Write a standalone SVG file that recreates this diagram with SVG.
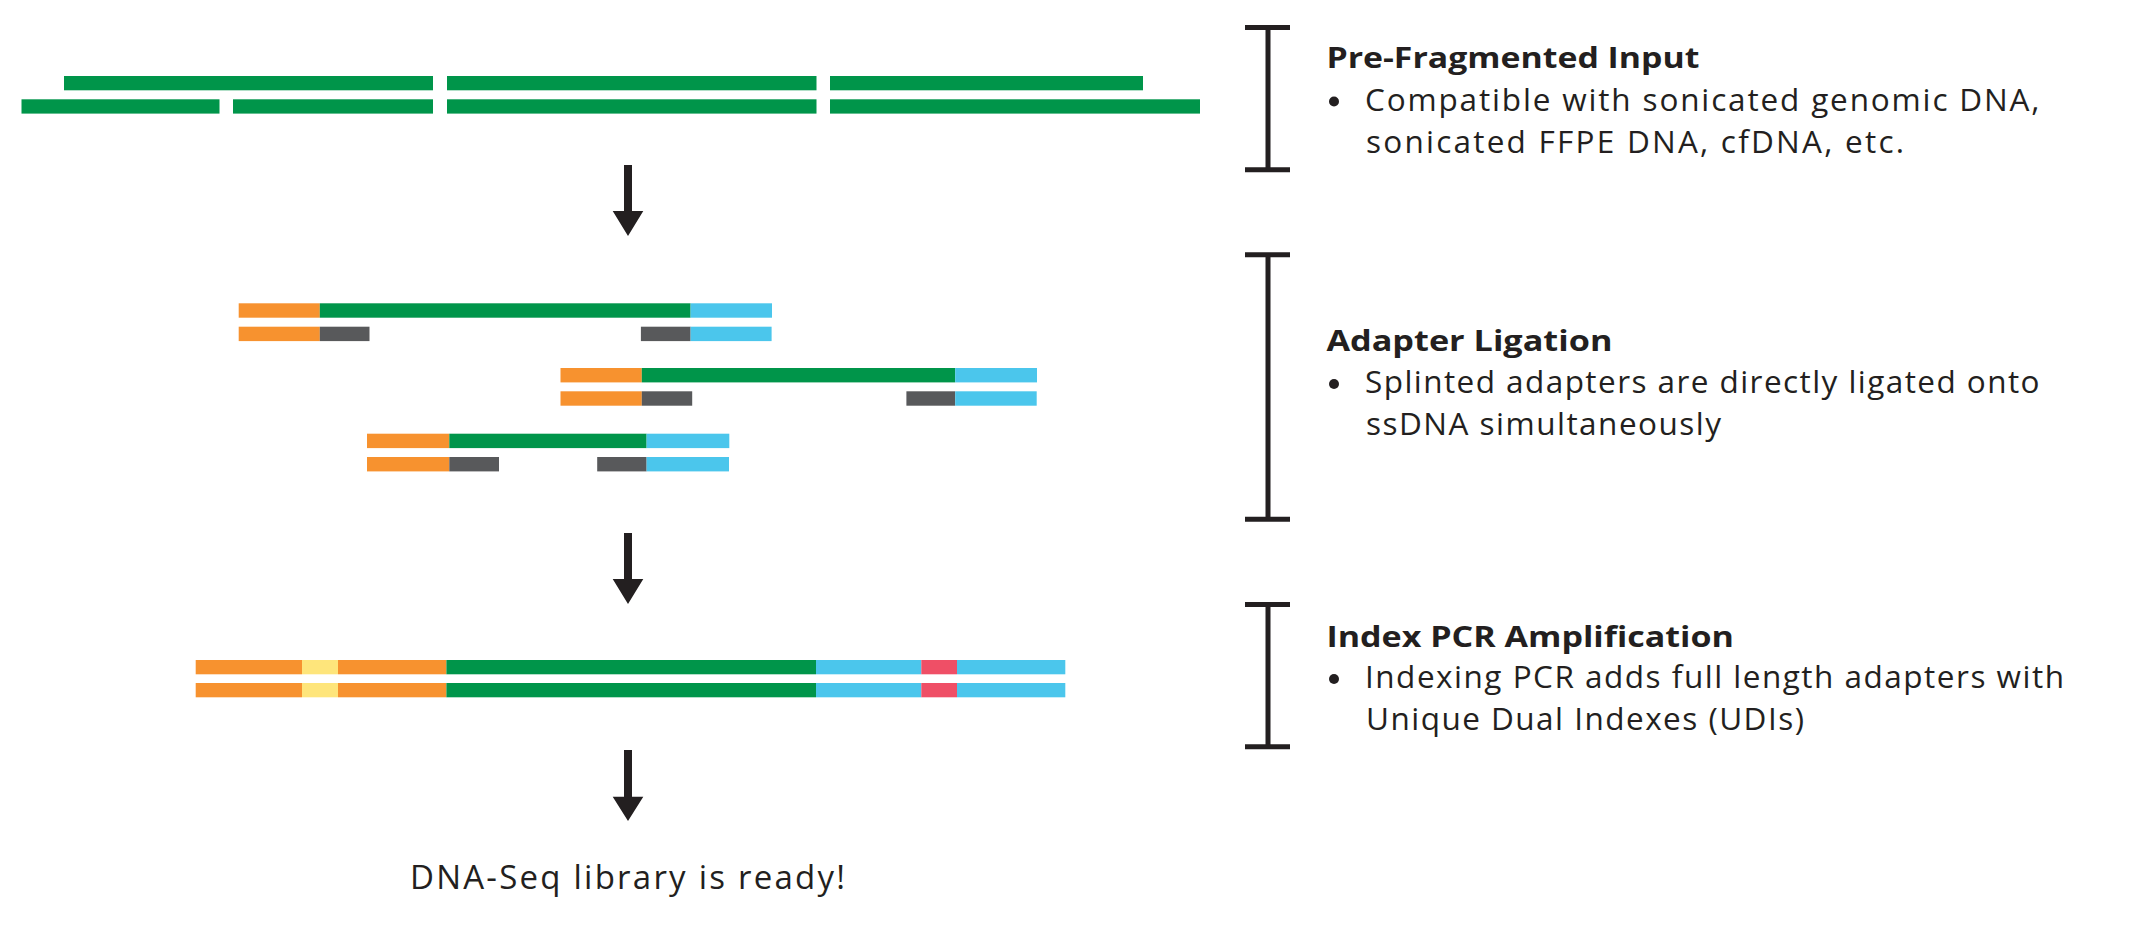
<svg xmlns="http://www.w3.org/2000/svg" width="2143" height="933" viewBox="0 0 2143 933">
<style>
.g{fill:#00954A}.o{fill:#F7922F}.b{fill:#4BC6EC}.k{fill:#58595B}.y{fill:#FEE57B}.r{fill:#EF4F66}
.t{font-family:"Open Sans","Liberation Sans",sans-serif;fill:#231F20}
.h{font-size:28.5px;font-weight:700}
.p{font-size:31.5px}
.br{stroke:#231F20;stroke-width:5;fill:none}
.ar{fill:#231F20}
</style>
<rect width="2143" height="933" fill="#fff"/>
<g id="input-fragments">
<rect class="g" x="64" y="76" width="369" height="14.3"/>
<rect class="g" x="447" y="76" width="369.5" height="14.3"/>
<rect class="g" x="830" y="76" width="313" height="14.3"/>
<rect class="g" x="21.5" y="99.3" width="198" height="14.3"/>
<rect class="g" x="233" y="99.3" width="200" height="14.3"/>
<rect class="g" x="447" y="99.3" width="369.5" height="14.3"/>
<rect class="g" x="830" y="99.3" width="370" height="14.3"/>
</g>
<g id="ligated-fragment-1">
<rect class="o" x="238.7" y="303.3" width="81.1" height="14.4"/>
<rect class="g" x="319.8" y="303.3" width="370.8" height="14.4"/>
<rect class="b" x="690.6" y="303.3" width="81.4" height="14.4"/>
<rect class="o" x="238.7" y="326.7" width="81.1" height="14.4"/>
<rect class="k" x="319.8" y="326.7" width="49.7" height="14.4"/>
<rect class="k" x="640.9" y="326.7" width="49.7" height="14.4"/>
<rect class="b" x="690.6" y="326.7" width="81" height="14.4"/>
</g>
<g id="ligated-fragment-2">
<rect class="o" x="560.5" y="368" width="81.3" height="14.4"/>
<rect class="g" x="641.8" y="368" width="313.4" height="14.4"/>
<rect class="b" x="955.2" y="368" width="81.8" height="14.4"/>
<rect class="o" x="560.5" y="391.3" width="81.3" height="14.4"/>
<rect class="k" x="641.8" y="391.3" width="50.4" height="14.4"/>
<rect class="k" x="906.4" y="391.3" width="48.8" height="14.4"/>
<rect class="b" x="955.2" y="391.3" width="81.5" height="14.4"/>
</g>
<g id="ligated-fragment-3">
<rect class="o" x="367" y="433.7" width="82.3" height="14.4"/>
<rect class="g" x="449.3" y="433.7" width="197.3" height="14.4"/>
<rect class="b" x="646.6" y="433.7" width="82.7" height="14.4"/>
<rect class="o" x="367" y="457" width="82.3" height="14.4"/>
<rect class="k" x="449.3" y="457" width="49.7" height="14.4"/>
<rect class="k" x="597.2" y="457" width="49.4" height="14.4"/>
<rect class="b" x="646.6" y="457" width="82.4" height="14.4"/>
</g>
<g id="indexed-library">
<rect class="o" x="195.7" y="660" width="106.3" height="14.3"/>
<rect class="y" x="302" y="660" width="36" height="14.3"/>
<rect class="o" x="338" y="660" width="108.4" height="14.3"/>
<rect class="g" x="446.4" y="660" width="369.6" height="14.3"/>
<rect class="b" x="816" y="660" width="105.3" height="14.3"/>
<rect class="r" x="921.3" y="660" width="35.7" height="14.3"/>
<rect class="b" x="957" y="660" width="108.3" height="14.3"/>
<rect class="o" x="195.7" y="683" width="106.3" height="14.3"/>
<rect class="y" x="302" y="683" width="36" height="14.3"/>
<rect class="o" x="338" y="683" width="108.4" height="14.3"/>
<rect class="g" x="446.4" y="683" width="369.6" height="14.3"/>
<rect class="b" x="816" y="683" width="105.3" height="14.3"/>
<rect class="r" x="921.3" y="683" width="35.7" height="14.3"/>
<rect class="b" x="957" y="683" width="108.3" height="14.3"/>
</g>
<g id="result">
<text class="t" x="410" y="888.5" font-size="33" textLength="435" lengthAdjust="spacing">DNA-Seq library is ready!</text>
</g>
<g id="connectors">
<path class="ar" d="M624,165H632V211H643.3L628,236L612.7,211H624Z"/>
<path class="ar" d="M624,533H632V579H643.3L628,604L612.7,579H624Z"/>
<path class="ar" d="M624,750H632V796.7H643.3L628,821L612.7,796.7H624Z"/>
</g>
<g id="step-pre-fragmented">
<path class="br" d="M1245,27.5H1290M1268,27.5V169.8M1245,169.8H1290"/>
<text class="t h" x="1326.4" y="68.3" textLength="373" lengthAdjust="spacingAndGlyphs">Pre-Fragmented Input</text>
<circle cx="1334" cy="101.5" r="5" fill="#231F20"/>
<text class="t p" x="1365" y="111" textLength="674.5" lengthAdjust="spacing">Compatible with sonicated genomic DNA,</text>
<text class="t p" x="1366" y="152.7" textLength="538" lengthAdjust="spacing">sonicated FFPE DNA, cfDNA, etc.</text>
</g>
<g id="step-adapter-ligation">
<path class="br" d="M1245,254.7H1290M1268,254.7V519.2M1245,519.2H1290"/>
<text class="t h" x="1326.4" y="351" textLength="286" lengthAdjust="spacingAndGlyphs">Adapter Ligation</text>
<circle cx="1334" cy="384" r="5" fill="#231F20"/>
<text class="t p" x="1365" y="393.3" textLength="674.5" lengthAdjust="spacing">Splinted adapters are directly ligated onto</text>
<text class="t p" x="1366" y="435" textLength="355" lengthAdjust="spacing">ssDNA simultaneously</text>
</g>
<g id="step-index-pcr">
<path class="br" d="M1245,604.5H1290M1268,604.5V746.7M1245,746.7H1290"/>
<text class="t h" x="1326.4" y="646.7" textLength="407.5" lengthAdjust="spacingAndGlyphs">Index PCR Amplification</text>
<circle cx="1334" cy="679" r="5" fill="#231F20"/>
<text class="t p" x="1365" y="688.3" textLength="699" lengthAdjust="spacing">Indexing PCR adds full length adapters with</text>
<text class="t p" x="1366" y="730" textLength="438" lengthAdjust="spacing">Unique Dual Indexes (UDIs)</text>
</g>
</svg>
